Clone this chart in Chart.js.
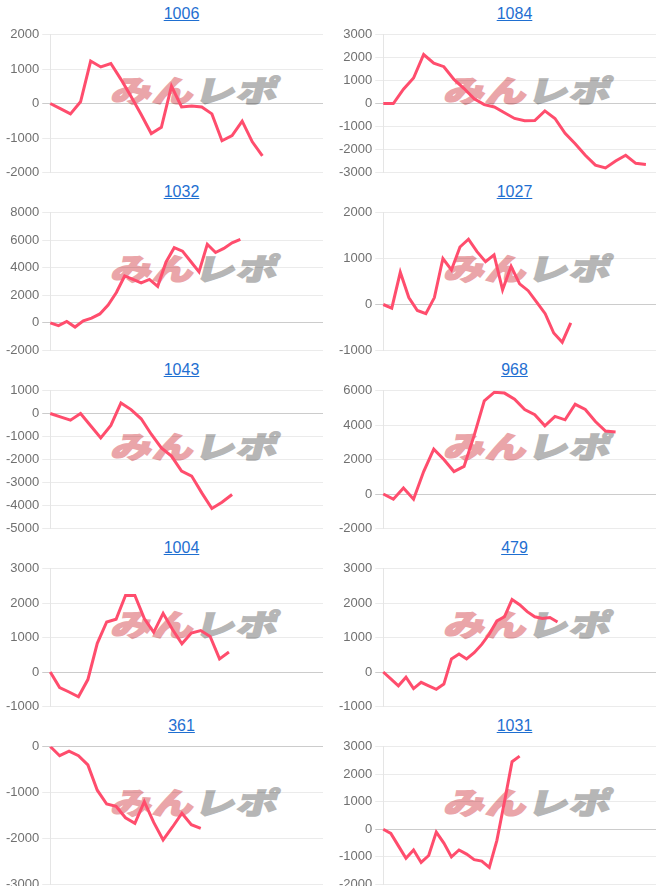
<!DOCTYPE html>
<html>
<head>
<meta charset="utf-8">
<script src="https://cdn.jsdelivr.net/npm/chart.js@4.4.1/dist/chart.umd.min.js"></script>
<style>
  body { margin: 0; background: #fff; font-family: Arial, "Liberation Sans", sans-serif; }
  #grid { display: grid; grid-template-columns: 333px 333px; width: 666px; }
  .panel { position: relative; height: 178px; }
  .title { height: 26px; line-height: 25px; padding-top: 1px; box-sizing: border-box; text-align: center; padding-left: 30px; font-size: 16px; }
  .title a { color: #1f6fd1; text-decoration: underline; }
  .box { position: relative; z-index: 1; height: 157px; width: 320px; margin-left: 3px; margin-top: -1px; }
  .wm { position: absolute; left: 117px; top: 74px; z-index: 0; white-space: nowrap;
        font-family: "Noto Sans CJK JP", sans-serif; font-weight: 900; font-size: 30px; line-height: 30px;
        letter-spacing: 1px; transform: skewX(-14deg) scaleX(1.35); transform-origin: left top; }
  .wm .pk { color: #eaa5a9; -webkit-text-stroke: 1.5px #eaa5a9; }
  .wm .gy { color: #b6b6b6; -webkit-text-stroke: 1.5px #b6b6b6; }
</style>
</head>
<body>
<div id="grid"></div>
<script>
(function () {
  'use strict';

  // panel order: left to right, top to bottom
  var titles = ['1006', '1084', '1032', '1027', '1043', '968', '1004', '479', '361', '1031'];

  // number of x categories on each chart
  var xLabelCounts = [28, 28, 34, 33, 28, 28, 30, 37, 30, 37];

  var series1006 = [0, -150, -300, 50, 1230, 1060, 1160, 700, 200, -320, -870, -690, 500, -100, -70, -100, -300, -1080, -930, -510, -1110, -1520];
  var series1084 = [0, 0, 620, 1110, 2130, 1750, 1600, 1050, 650, 200, -50, -150, -400, -650, -750, -740, -320, -650, -1300, -1750, -2250, -2680, -2800, -2500, -2250, -2600, -2650];
  var series1032 = [0, -200, 100, -300, 150, 350, 650, 1300, 2200, 3400, 3150, 2900, 3150, 2650, 4400, 5450, 5200, 4450, 3700, 5700, 5100, 5400, 5800, 6050];
  var series1027 = [0, -80, 700, 150, -130, -200, 150, 1000, 750, 1250, 1420, 1150, 930, 1080, 320, 830, 450, 300, 50, -200, -620, -820, -400];
  var series1043 = [0, -150, -290, 0, -530, -1060, -520, 460, 170, -230, -900, -1500, -1850, -2500, -2720, -3450, -4130, -3860, -3520];
  var series968 = [0, -300, 350, -300, 1300, 2600, 2000, 1300, 1600, 3400, 5400, 5900, 5850, 5500, 4900, 4600, 3950, 4500, 4300, 5200, 4900, 4200, 3650, 3600];
  var series1004 = [0, -450, -580, -720, -220, 830, 1450, 1530, 2220, 2220, 1550, 1150, 1700, 1230, 820, 1130, 1200, 1030, 380, 580];
  var series479 = [0, -200, -400, -150, -480, -300, -400, -500, -350, 380, 520, 380, 560, 800, 1100, 1480, 1600, 2100, 1950, 1750, 1600, 1550, 1580, 1450];
  var series361 = [0, -200, -100, -200, -400, -950, -1250, -1300, -1550, -1670, -1200, -1650, -2030, -1750, -1450, -1700, -1780];
  var series1031 = [0, -150, -600, -1050, -750, -1200, -950, -100, -500, -1000, -750, -900, -1100, -1150, -1380, -400, 1000, 2450, 2650];

  var ticks1006 = [-2000, -1000, 0, 1000, 2000];
  var ticks1084 = [-3000, -2000, -1000, 0, 1000, 2000, 3000];
  var ticks1032 = [-2000, 0, 2000, 4000, 6000, 8000];
  var ticks1027 = [-1000, 0, 1000, 2000];
  var ticks1043 = [-5000, -4000, -3000, -2000, -1000, 0, 1000];
  var ticks968 = [-2000, 0, 2000, 4000, 6000];
  var ticks1004 = [-1000, 0, 1000, 2000, 3000];
  var ticks479 = [-1000, 0, 1000, 2000, 3000];
  var ticks361 = [-3000, -2000, -1000, 0];
  var ticks1031 = [-2000, -1000, 0, 1000, 2000, 3000];

  var allSeries = [series1006, series1084, series1032, series1027, series1043, series968, series1004, series479, series361, series1031];
  var allTicks = [ticks1006, ticks1084, ticks1032, ticks1027, ticks1043, ticks968, ticks1004, ticks479, ticks361, ticks1031];

  var lineColor = 'rgba(255, 77, 109, 1)';
  var grid = document.getElementById('grid');

  for (var i = 0; i < titles.length; i++) {
    var panel = document.createElement('div');
    panel.className = 'panel';
    panel.innerHTML =
      '<div class="title"><a href="#">' + titles[i] + '</a></div>' +
      '<div class="wm"><span class="pk">みん</span><span class="gy">レポ</span></div>' +
      '<div class="box"><canvas></canvas></div>';
    grid.appendChild(panel);

    var labels = [];
    for (var k = 1; k <= xLabelCounts[i]; k++) labels.push(String(k));
    var ticks = allTicks[i];

    new Chart(panel.querySelector('canvas'), {
      type: 'line',
      data: {
        labels: labels,
        datasets: [{
          label: titles[i],
          data: allSeries[i],
          borderColor: lineColor,
          backgroundColor: lineColor,
          borderWidth: 3,
          pointRadius: 0,
          tension: 0,
          fill: false
        }]
      },
      options: {
        responsive: true,
        maintainAspectRatio: false,
        animation: false,
        devicePixelRatio: 1,
        scales: {
          x: {
            display: false
          },
          y: {
            min: ticks[0],
            max: ticks[ticks.length - 1],
            ticks: {
              stepSize: ticks[1] - ticks[0],
              color: '#707070',
              font: { size: 13, lineHeight: 1 },
              callback: function (v) { return String(v); }
            },
            grid: {
              color: function (c) {
                return c.tick && c.tick.value === 0 ? 'rgba(0, 0, 0, 0.2)' : 'rgba(0, 0, 0, 0.08)';
              }
            },
            border: { color: 'rgba(0, 0, 0, 0.1)' }
          }
        },
        plugins: {
          legend: { display: false },
          tooltip: { enabled: false }
        }
      }
    });
  }
})();
</script>
</body>
</html>
